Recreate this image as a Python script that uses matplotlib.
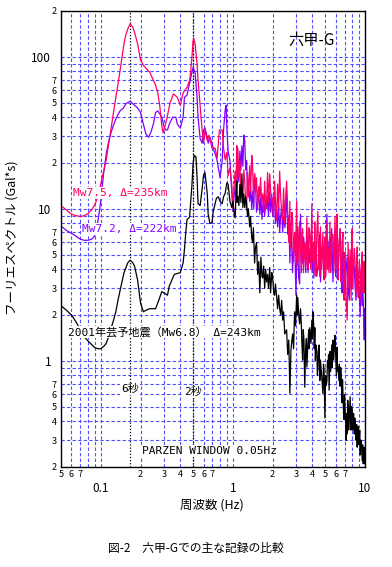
import numpy as np
import matplotlib
matplotlib.use("Agg")
import matplotlib.pyplot as plt
from matplotlib.ticker import FixedLocator, FuncFormatter

plt.rcParams['font.family'] = ['Noto Sans CJK JP', 'DejaVu Sans']

RED = "#ff0066"
PURPLE = "#8000ff"
GRID = "#5050ff"

# (frequency Hz, Fourier amplitude gal*s)
# Mw7.5, Δ=235km
spec_75 = [
    (0.05, 10.5), (0.055, 9.8), (0.06, 9.2), (0.065, 9.0), (0.07, 8.9), (0.075, 9.0), (0.08, 9.3),
    (0.085, 9.8), (0.09, 10.6), (0.095, 12.0), (0.1, 14.5), (0.105, 17.5), (0.11, 21), (0.115, 27),
    (0.12, 34), (0.125, 43), (0.13, 54), (0.135, 66), (0.14, 82), (0.145, 100), (0.15, 122),
    (0.155, 140), (0.16, 152), (0.167, 165), (0.175, 156), (0.18, 145), (0.19, 122), (0.2, 95),
    (0.21, 88), (0.22, 84), (0.235, 79), (0.25, 70), (0.26, 65), (0.27, 58), (0.28, 47), (0.29, 35),
    (0.296, 31.5), (0.315, 38.5), (0.335, 50), (0.355, 57), (0.38, 54), (0.4, 48), (0.42, 58),
    (0.45, 63), (0.47, 70), (0.48, 81), (0.49, 100), (0.5, 128), (0.505, 132),
    (0.517, 122), (0.535, 91), (0.545, 70), (0.565, 48), (0.585, 33), (0.6, 27), (0.615, 33),
    (0.64, 28), (0.66, 30.5), (0.695, 25), (0.735, 25), (0.76, 21.5), (0.79, 33), (0.83, 33),
    (0.85, 25), (0.875, 21), (0.9, 23.5), (0.92, 16.5), (0.95, 18.5), (0.98, 14.5),
    (1.0, 10.0), (1.02, 14), (1.04, 17.7), (1.055, 13), (1.07, 26), (1.08, 18), (1.09, 25),
    (1.11, 16), (1.13, 20.7), (1.15, 12), (1.17, 14), (1.19, 11.2), (1.21, 18), (1.23, 15),
    (1.25, 11), (1.27, 10), (1.29, 17.3), (1.31, 12), (1.34, 19.2), (1.36, 13), (1.39, 22.4),
    (1.41, 19), (1.43, 12), (1.46, 17), (1.49, 13), (1.51, 16), (1.54, 10), (1.57, 14), (1.6, 12),
    (1.62, 16), (1.65, 11.2), (1.68, 12.5), (1.71, 9.5), (1.74, 15.2), (1.77, 10), (1.8, 11.2),
    (1.83, 17.3), (1.86, 11), (1.9, 17), (1.93, 13), (1.97, 11.2), (2.0, 11.7), (2.03, 9),
    (2.07, 15.2), (2.1, 11.2), (2.14, 8.5), (2.18, 14.5), (2.22, 10), (2.26, 17.7), (2.3, 12),
    (2.34, 9.5), (2.38, 8.5), (2.42, 13.7), (2.46, 8), (2.5, 11.2), (2.55, 15.2),
    (2.6, 9.6), (2.65, 6.0), (2.7, 11.2), (2.72, 5.5), (2.75, 7.0), (2.8, 9.5), (2.83, 8.6),
    (2.88, 4.5), (2.93, 7.0), (2.98, 5.0), (3.04, 11.2), (3.07, 4.2), (3.1, 7.6), (3.15, 4.5),
    (3.2, 8.2), (3.25, 5.5), (3.3, 3.8), (3.33, 6.5), (3.37, 7.4), (3.42, 3.8), (3.5, 6.0),
    (3.56, 4.2), (3.63, 8.7), (3.66, 4.5), (3.7, 4.0), (3.76, 7.5), (3.82, 7.0), (3.88, 4.0),
    (3.96, 10.8), (4.0, 4.5), (4.05, 6.0), (4.1, 3.7), (4.17, 8.2), (4.21, 4.8), (4.25, 3.6),
    (4.32, 7.0), (4.4, 9.6), (4.45, 4.0), (4.5, 6.0), (4.55, 3.6), (4.6, 7.6), (4.7, 4.0),
    (4.8, 7.0), (4.85, 4.5), (4.9, 3.4), (4.93, 5.5), (4.97, 6.5), (5.05, 3.6), (5.15, 8.2),
    (5.2, 4.0), (5.24, 5.6), (5.33, 3.8), (5.43, 8.2), (5.47, 4.2), (5.5, 3.8), (5.6, 6.5),
    (5.72, 6.8), (5.8, 3.8), (5.93, 8.9), (5.97, 4.5), (6.0, 4.0), (6.07, 7.0), (6.14, 9.2),
    (6.2, 4.0), (6.25, 3.4), (6.35, 6.0), (6.48, 7.4), (6.54, 3.5), (6.6, 3.3), (6.7, 6.0),
    (6.82, 7.0), (6.88, 3.0), (6.95, 2.5), (7.0, 4.5), (7.07, 5.2), (7.2, 2.5), (7.33, 1.85),
    (7.4, 4.0), (7.45, 6.0), (7.6, 3.0), (7.72, 5.4), (7.8, 3.5), (7.85, 2.5), (7.92, 5.0),
    (8.0, 7.4), (8.06, 3.0), (8.13, 3.8), (8.3, 5.5), (8.42, 4.3), (8.5, 3.0), (8.55, 2.8),
    (8.65, 4.5), (8.73, 5.6), (8.8, 3.0), (8.9, 2.6), (9.05, 4.5), (9.2, 4.0), (9.3, 2.8),
    (9.35, 2.5), (9.45, 4.5), (9.53, 5.2), (9.6, 3.0), (9.7, 2.8), (9.8, 4.5), (9.87, 3.8),
    (9.95, 2.8), (10.0, 3.3),
]

# Mw7.2, Δ=222km
spec_72 = [
    (0.05, 7.7), (0.055, 7.2), (0.06, 6.9), (0.065, 6.6), (0.07, 6.3), (0.075, 6.2), (0.08, 6.2),
    (0.085, 6.3), (0.09, 6.6), (0.095, 8.2), (0.1, 11.2), (0.105, 17), (0.11, 23), (0.115, 28),
    (0.12, 32), (0.125, 35.6), (0.13, 39), (0.135, 41.6), (0.14, 44), (0.148, 46), (0.155, 49),
    (0.16, 50), (0.167, 51), (0.175, 49), (0.18, 48), (0.19, 46), (0.2, 43), (0.21, 36),
    (0.22, 31), (0.23, 29.5), (0.24, 32), (0.25, 36), (0.26, 43), (0.27, 44), (0.28, 42),
    (0.29, 40), (0.3, 35), (0.31, 33), (0.32, 33), (0.33, 36), (0.35, 40), (0.37, 40), (0.38, 36),
    (0.4, 34), (0.42, 40), (0.43, 54), (0.45, 56), (0.47, 67), (0.49, 79), (0.5, 85),
    (0.517, 79), (0.535, 55), (0.545, 40), (0.565, 29), (0.585, 27), (0.6, 33), (0.615, 34),
    (0.64, 29.5), (0.65, 27), (0.67, 29.5), (0.695, 27), (0.72, 24), (0.735, 23), (0.76, 20.7),
    (0.79, 17), (0.8, 16), (0.83, 20.7), (0.85, 33), (0.875, 45), (0.89, 48), (0.9, 34),
    (0.92, 24), (0.95, 20.7), (0.98, 13),
    (1.0, 9.6), (1.02, 12), (1.04, 14), (1.06, 11.2), (1.09, 19), (1.11, 15), (1.13, 24),
    (1.15, 18), (1.17, 26), (1.19, 19), (1.21, 30.5), (1.23, 28), (1.25, 18), (1.27, 20.7),
    (1.29, 13), (1.31, 14), (1.34, 11.2), (1.36, 14), (1.39, 10), (1.41, 13), (1.44, 10),
    (1.46, 17), (1.49, 13), (1.51, 9.5), (1.54, 11.2), (1.57, 13), (1.6, 9.2), (1.63, 12),
    (1.66, 8.5), (1.68, 10.3), (1.71, 12), (1.74, 8.9), (1.77, 11), (1.8, 10), (1.83, 12),
    (1.86, 9), (1.9, 13), (1.93, 9.5), (1.97, 12.5), (2.0, 8.9), (2.04, 12), (2.07, 11.2),
    (2.1, 8), (2.14, 10), (2.18, 7.6), (2.22, 10.5), (2.26, 7.0), (2.3, 9), (2.34, 10.3),
    (2.38, 7), (2.42, 8.9), (2.48, 7.5),
    (2.55, 13), (2.6, 6.8), (2.65, 9.0), (2.7, 4.4), (2.74, 7.5), (2.78, 6.0), (2.83, 3.8),
    (2.88, 6.0), (2.93, 6.8), (2.97, 4.0), (3.0, 2.7), (3.05, 5.5), (3.1, 5.2), (3.15, 3.5),
    (3.2, 3.2), (3.25, 9.2), (3.3, 5.0), (3.37, 4.4), (3.43, 6.5), (3.5, 5.2), (3.56, 3.8),
    (3.63, 6.8), (3.7, 3.8), (3.76, 5.5), (3.82, 4.4), (3.9, 6.5), (3.98, 3.8), (4.05, 6.0),
    (4.1, 3.5), (4.17, 6.0), (4.25, 5.2), (4.32, 3.6), (4.4, 4.1), (4.48, 5.5), (4.55, 6.8),
    (4.6, 3.3), (4.7, 5.0), (4.8, 5.6), (4.88, 3.5), (4.97, 3.8), (5.05, 6.0), (5.15, 9.2),
    (5.2, 4.5), (5.24, 4.1), (5.33, 6.0), (5.43, 6.5), (5.5, 4.0), (5.6, 7.4), (5.72, 3.3),
    (5.8, 5.0), (5.93, 5.6), (6.0, 3.6), (6.07, 6.5), (6.14, 9.2), (6.2, 4.0), (6.25, 3.5),
    (6.35, 5.5), (6.48, 7.4), (6.6, 3.5), (6.7, 2.8), (6.76, 4.5), (6.82, 5.2), (6.95, 3.2),
    (7.07, 2.8), (7.2, 4.0), (7.33, 4.8), (7.45, 3.0), (7.6, 2.5), (7.66, 4.0), (7.72, 4.4),
    (7.85, 3.0), (8.0, 3.3), (8.13, 4.5), (8.3, 4.1), (8.42, 3.0), (8.55, 2.5), (8.7, 4.0),
    (8.9, 3.8), (9.05, 2.8), (9.2, 1.95), (9.27, 3.0), (9.35, 3.3), (9.5, 2.3), (9.6, 3.0),
    (9.7, 2.5), (9.8, 1.8), (9.87, 1.37), (9.94, 2.2), (10.0, 1.7),
]

# 2001年芸予地震 (Mw6.8), Δ=243km
spec_68 = [
    (0.05, 2.3), (0.055, 2.15), (0.06, 2.0), (0.065, 1.8), (0.07, 1.6), (0.075, 1.44),
    (0.08, 1.35), (0.085, 1.28), (0.09, 1.22), (0.095, 1.2), (0.1, 1.2), (0.105, 1.24),
    (0.11, 1.3), (0.115, 1.45), (0.12, 1.65), (0.125, 1.85), (0.13, 2.1), (0.135, 2.5),
    (0.14, 2.9), (0.15, 3.8), (0.16, 4.4), (0.167, 4.6), (0.175, 4.4), (0.18, 4.2), (0.19, 3.4),
    (0.2, 2.4), (0.21, 2.1), (0.22, 2.15), (0.235, 2.2), (0.25, 2.2), (0.26, 2.2), (0.27, 2.4),
    (0.29, 2.85), (0.3, 2.8), (0.32, 2.7), (0.33, 3.1), (0.36, 3.7), (0.4, 3.8), (0.42, 4.4),
    (0.43, 5.4), (0.44, 7.0), (0.45, 8.5), (0.47, 8.8), (0.49, 14.4), (0.5, 20),
    (0.51, 22.4), (0.525, 22), (0.535, 16.4), (0.545, 10.8), (0.565, 10.5), (0.585, 13.5),
    (0.6, 16.7), (0.615, 17.3), (0.64, 12.5), (0.65, 9.2), (0.67, 8.0), (0.695, 8.1), (0.71, 9.6),
    (0.75, 11.7), (0.775, 12), (0.8, 11.2), (0.83, 10.8), (0.85, 12), (0.875, 12.7), (0.9, 14.8),
    (0.92, 14.5), (0.95, 11.2), (0.98, 10.2),
    (1.0, 11.2), (1.02, 9.5), (1.04, 8.7), (1.055, 12), (1.07, 15.2), (1.08, 11), (1.09, 12),
    (1.11, 10.5), (1.13, 14.5), (1.15, 11), (1.17, 17), (1.19, 10.2), (1.21, 12.5), (1.23, 10.2),
    (1.25, 12), (1.27, 10.8), (1.29, 8.9), (1.31, 10), (1.34, 7.6), (1.36, 8.9), (1.39, 6.4),
    (1.41, 6.0), (1.43, 7.5), (1.46, 4.4), (1.48, 5.5), (1.51, 6.0), (1.54, 3.7), (1.57, 4.5),
    (1.6, 2.8), (1.63, 4.8), (1.66, 3.6), (1.68, 3.5), (1.71, 4.2), (1.74, 3.0), (1.77, 4.0),
    (1.8, 3.3), (1.83, 3.7), (1.86, 3.0), (1.9, 4.1), (1.93, 2.8), (1.97, 3.8), (2.0, 3.5),
    (2.04, 2.8), (2.07, 2.7), (2.1, 3.2), (2.14, 2.7), (2.18, 2.2), (2.22, 2.7), (2.26, 2.2),
    (2.3, 2.0), (2.34, 2.5), (2.38, 1.85), (2.42, 2.1),
    (2.47, 1.5), (2.55, 1.6), (2.6, 1.1), (2.65, 1.37), (2.7, 0.61), (2.75, 1.17), (2.78, 1.3),
    (2.83, 1.5), (2.88, 1.2), (2.93, 2.1), (2.98, 1.7), (3.04, 2.7), (3.07, 2.0), (3.1, 2.6),
    (3.15, 2.0), (3.2, 1.75), (3.25, 2.2), (3.3, 1.7), (3.33, 1.3), (3.37, 1.01), (3.41, 1.6),
    (3.45, 1.37), (3.5, 0.67), (3.55, 1.17), (3.6, 1.4), (3.63, 0.91), (3.7, 1.3), (3.75, 1.6),
    (3.78, 1.2), (3.82, 1.65), (3.9, 1.3), (3.96, 1.85), (4.0, 1.4), (4.05, 2.1), (4.1, 1.6),
    (4.13, 1.2), (4.17, 1.65), (4.21, 1.0), (4.25, 1.27), (4.32, 1.15), (4.36, 0.8), (4.4, 0.87),
    (4.45, 1.2), (4.5, 1.27), (4.55, 0.74), (4.6, 1.01), (4.7, 0.8), (4.8, 0.61), (4.85, 0.95),
    (4.9, 0.87), (4.97, 0.42), (5.03, 0.8), (5.1, 0.69), (5.15, 0.74), (5.2, 1.0), (5.24, 0.91),
    (5.3, 1.1), (5.35, 0.64), (5.43, 1.15), (5.5, 0.85), (5.6, 1.27), (5.66, 0.9), (5.72, 1.37),
    (5.8, 1.01), (5.87, 1.3), (5.93, 1.47), (6.0, 1.09), (6.07, 0.8), (6.14, 1.23), (6.2, 0.85),
    (6.25, 0.91), (6.35, 0.74), (6.4, 0.95), (6.48, 0.68), (6.55, 0.9), (6.6, 0.8), (6.7, 0.53),
    (6.76, 0.75), (6.82, 0.6), (6.88, 0.45), (6.95, 0.41), (7.0, 0.6), (7.07, 0.47), (7.15, 0.4),
    (7.2, 0.3), (7.27, 0.45), (7.33, 0.33), (7.4, 0.55), (7.45, 0.5), (7.52, 0.35), (7.6, 0.41),
    (7.66, 0.48), (7.72, 0.58), (7.8, 0.4), (7.85, 0.35), (7.92, 0.5), (8.0, 0.47), (8.06, 0.35),
    (8.13, 0.41), (8.2, 0.45), (8.3, 0.33), (8.36, 0.42), (8.42, 0.41), (8.5, 0.32), (8.55, 0.3),
    (8.65, 0.38), (8.73, 0.27), (8.8, 0.36), (8.9, 0.37), (8.98, 0.28), (9.05, 0.3), (9.12, 0.35),
    (9.2, 0.24), (9.27, 0.3), (9.35, 0.3), (9.45, 0.25), (9.53, 0.22), (9.6, 0.28), (9.7, 0.21),
    (9.8, 0.25), (9.87, 0.27), (9.94, 0.21), (10.0, 0.26),
]

f_75, a_75 = zip(*spec_75)
f_72, a_72 = zip(*spec_72)
f_68, a_68 = zip(*spec_68)

period_lines = [1 / 6, 1 / 2]  # 6秒, 2秒
x_minor = [d * 10.0 ** e for e in (-2, -1, 0) for d in range(2, 10)]
y_minor = [d * 10.0 ** e for e in (-1, 0, 1, 2) for d in range(2, 10)]


def digit_label(v, pos):
    d = int(round(v / 10 ** np.floor(np.log10(v) + 1e-9)))
    return str(d) if 2 <= d <= 7 else ''


fig = plt.figure(figsize=(3.92, 5.67), dpi=100)
ax = fig.add_axes([61 / 392, 100 / 567, 304 / 392, 456 / 567])
ax.set_xscale('log')
ax.set_yscale('log')
ax.set_xlim(0.05, 10)
ax.set_ylim(0.2, 200)

ax.xaxis.set_major_locator(FixedLocator([0.1, 1, 10]))
ax.xaxis.set_major_formatter(FuncFormatter(lambda v, p: '%g' % v))
ax.xaxis.set_minor_locator(FixedLocator([v for v in x_minor if 0.05 <= v <= 10]))
ax.xaxis.set_minor_formatter(FuncFormatter(digit_label))
ax.yaxis.set_major_locator(FixedLocator([1, 10, 100]))
ax.yaxis.set_major_formatter(FuncFormatter(lambda v, p: '%g' % v))
ax.yaxis.set_minor_locator(FixedLocator([v for v in y_minor if 0.2 <= v <= 200]))
ax.yaxis.set_minor_formatter(FuncFormatter(digit_label))

ax.tick_params(which='both', length=0)
ax.tick_params(axis='x', which='minor', pad=2, labelsize=6.5)
ax.tick_params(axis='x', which='major', pad=11, labelsize=8.5)
ax.tick_params(axis='y', which='minor', pad=3, labelsize=6.5)
ax.tick_params(axis='y', which='major', pad=7, labelsize=8.5)

ax.grid(True, which='both', color=GRID, ls=(0, (3, 2)), lw=0.8)
for s in ax.spines.values():
    s.set_linewidth(1.0)

for p in period_lines:
    ax.axvline(p, color='k', ls=(0, (1, 1.5)), lw=0.9)

ax.plot(f_72, a_72, color=PURPLE, lw=0.9)
ax.plot(f_75, a_75, color=RED, lw=0.9)
ax.plot(f_68, a_68, color='k', lw=0.9)

mono = ['DejaVu Sans Mono', 'Noto Sans CJK JP']
box = dict(facecolor='white', edgecolor='none', pad=0.6)
fig.text(73 / 392, 1 - 193 / 567, 'Mw7.5, Δ=235km', color=RED, fontsize=8,
         family=mono, va='center', bbox=box)
fig.text(82 / 392, 1 - 229 / 567, 'Mw7.2, Δ=222km', color=PURPLE, fontsize=8,
         family=mono, va='center', bbox=box)
fig.text(68 / 392, 1 - 332 / 567, '2001年芸予地震（Mw6.8） Δ=243km', fontsize=8,
         family=mono, va='center', bbox=box)
fig.text(121 / 392, 1 - 389 / 567, '6秒', fontsize=8, family=mono, va='center', bbox=box)
fig.text(184 / 392, 1 - 392 / 567, '2秒', fontsize=8, family=mono, va='center', bbox=box)
fig.text(142 / 392, 1 - 451 / 567, 'PARZEN WINDOW 0.05Hz', fontsize=8, family=mono,
         va='center', bbox=box)
fig.text(288 / 392, 1 - 40 / 567, '六甲-G', fontsize=11, va='center')

fig.text(12 / 392, 1 - 238 / 567, 'フーリエスペクトル (Gal*s)', fontsize=9, rotation=90,
         ha='center', va='center')
fig.text(212 / 392, 1 - 505 / 567, '周波数 (Hz)', fontsize=9, ha='center', va='center')
fig.text(196 / 392, 1 - 548 / 567, '図-2　六甲-Gでの主な記録の比較', fontsize=8.5,
         ha='center', va='center')

fig.savefig('out.png', dpi=100)
